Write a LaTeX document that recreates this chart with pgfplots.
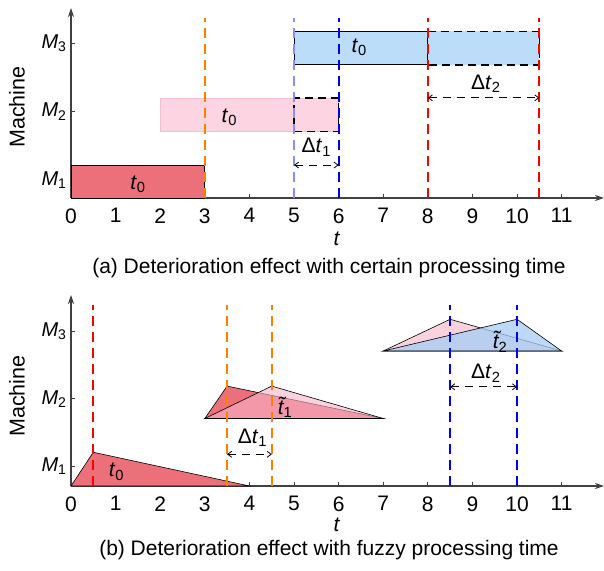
\documentclass[border=0pt]{standalone}
\usepackage{fontspec}
\setmainfont{Liberation Sans}
\usepackage{pgfplots}
\pgfplotsset{compat=1.18}
\usetikzlibrary{arrows.meta}
\definecolor{cRed}{RGB}{236,112,122}
\definecolor{cPinkA}{RGB}{252,212,226}
\definecolor{cPinkEdge}{RGB}{245,190,210}
\definecolor{cBlueA}{RGB}{187,221,250}
\definecolor{cPink}{RGB}{247,180,200}
\definecolor{cBlue}{RGB}{165,205,245}
\definecolor{lOrange}{RGB}{255,128,0}
\definecolor{lLav}{RGB}{140,140,255}
\definecolor{lRed}{RGB}{255,0,0}
\definecolor{lBlue}{RGB}{0,0,255}
\definecolor{axgray}{RGB}{64,64,64}
\newcommand{\Ms}[1]{\textit{M}\textsubscript{#1}}
\newcommand{\ts}[1]{\textit{t}\textsubscript{#1}}
\newcommand{\tts}[1]{\textit{\~{t}}\textsubscript{#1}}
\newcommand{\dts}[1]{Δ\textit{t}\textsubscript{#1}}
\newcommand{\bigf}{\fontsize{21}{25}\selectfont}
\pgfplotsset{
  gantt/.style={
    scale only axis, width=533pt, xmin=0, xmax=11.95, ymin=0,
    axis lines=left,
    axis line style={draw=axgray, line width=1.1pt, -{Stealth[length=9pt,width=6pt]}},
    xtick={0,...,11},
    tick align=inside, major tick length=4pt,
    tick style={draw=axgray, line width=0.9pt},
    /pgf/number format/assume math mode=true,
    xticklabel style={font=\bigf, yshift=-7pt},
    yticklabel style={font=\fontsize{20}{24}\selectfont, xshift=-1pt},
    yticklabels={\Ms{1},\Ms{2},\Ms{3}},
    clip=false,
  },
  vline/.style={line width=1.8pt, dash pattern=on 10pt off 6pt},
  dbox/.style={draw=black, line width=1.4pt, dash pattern=on 8pt off 5pt},
  darr/.style={draw=black, line width=0.8pt, dash pattern=on 8pt off 6pt,
    {Straight Barb[length=4pt,width=6pt]}-{Straight Barb[length=4pt,width=6pt]}},
}
\begin{document}
\begin{tikzpicture}
\useasboundingbox (0,0) rectangle (604pt,570pt);
% ---------------- panel (a)
\begin{axis}[gantt, at={(71pt,372pt)}, anchor=south west, height=190pt, ymax=2.77,
  ytick={0.26,1.26,2.26}]
\addplot[fill=cRed, draw=black, line width=0.9pt] coordinates {(0,0)(3,0)(3,0.48)(0,0.48)} -- cycle;
\addplot[fill=cPinkA, draw=cPinkEdge, line width=0.6pt] coordinates {(2,0.97)(6,0.97)(6,1.46)(2,1.46)} -- cycle;
\addplot[dbox] coordinates {(5,0.97)(6,0.97)(6,1.46)(5,1.46)} -- cycle;
\addplot[fill=cBlueA, draw=none] coordinates {(8,1.94)(10.5,1.94)(10.5,2.43)(8,2.43)} -- cycle;
\addplot[fill=cBlueA, draw=black, line width=1pt] coordinates {(5,1.94)(8,1.94)(8,2.43)(5,2.43)} -- cycle;
\addplot[dbox] coordinates {(8,2.43)(10.5,2.43)(10.5,1.94)(8,1.94)};
\addplot[vline, draw=lOrange] coordinates {(3,0)(3,2.63)};
\addplot[vline, draw=lLav] coordinates {(5,0)(5,2.63)};
\addplot[vline, draw=lBlue] coordinates {(6,0)(6,2.63)};
\addplot[vline, draw=lRed] coordinates {(8,0)(8,2.63)};
\addplot[vline, draw=lRed] coordinates {(10.5,0)(10.5,2.63)};
\addplot[darr] coordinates {(5,0.48)(6,0.48)};
\addplot[darr] coordinates {(8,1.46)(10.5,1.46)};
\node[font=\bigf] at (axis cs:1.5,0.2) {\ts{0}};
\node[font=\bigf] at (axis cs:3.55,1.18) {\ts{0}};
\node[font=\bigf] at (axis cs:6.46,2.2) {\ts{0}};
\node[font=\bigf] at (axis cs:5.5,0.74) {\dts{1}};
\node[font=\bigf] at (axis cs:9.3,1.66) {\dts{2}};
\end{axis}
% ---------------- panel (b)
\begin{axis}[gantt, at={(71pt,84pt)}, anchor=south west, height=191pt, ymax=2.83,
  ytick={0.29,1.29,2.29}]
\addplot[fill=cRed, draw=black, line width=0.6pt] coordinates {(0,0)(0.5,0.5)(4,0)} -- cycle;
\addplot[fill=cRed, draw=black, line width=0.6pt] coordinates {(3,1)(3.5,1.48)(7,1)} -- cycle;
\addplot[fill=cPink, fill opacity=0.6, draw=black, line width=0.6pt] coordinates {(3,1)(4.5,1.48)(7,1)} -- cycle;
\addplot[fill=cPink, fill opacity=0.6, draw=black, line width=0.6pt] coordinates {(7,2)(8.5,2.47)(11,2)} -- cycle;
\addplot[fill=cBlue, fill opacity=0.75, draw=black, line width=0.6pt] coordinates {(7,2)(10,2.47)(11,2)} -- cycle;
\addplot[vline, draw=lRed] coordinates {(0.5,0)(0.5,2.68)};
\addplot[vline, draw=lOrange] coordinates {(3.5,0)(3.5,2.68)};
\addplot[vline, draw=lOrange] coordinates {(4.5,0)(4.5,2.68)};
\addplot[vline, draw=lBlue] coordinates {(8.5,0)(8.5,2.68)};
\addplot[vline, draw=lBlue] coordinates {(10,0)(10,2.68)};
\addplot[darr] coordinates {(3.5,0.47)(4.5,0.47)};
\addplot[darr] coordinates {(8.5,1.47)(10,1.47)};
\node[font=\bigf] at (axis cs:1.02,0.21) {\ts{0}};
\node[font=\bigf] at (axis cs:4.8,1.17) {\tts{1}};
\node[font=\bigf] at (axis cs:9.62,2.14) {\tts{2}};
\node[font=\bigf] at (axis cs:4.07,0.71) {\dts{1}};
\node[font=\bigf] at (axis cs:9.3,1.67) {\dts{2}};
\end{axis}
% ---------------- labels
\node[font=\fontsize{21.5}{25}\selectfont, rotate=90] at (17pt,463pt) {Machine};
\node[font=\fontsize{21.5}{25}\selectfont, rotate=90] at (17pt,174pt) {Machine};
\node[font=\bigf] at (337pt,331pt) {\textit{t}};
\node[font=\bigf] at (337pt,45pt) {\textit{t}};
\node[font=\fontsize{21}{25}\selectfont] at (329pt,302pt) {(a) Deterioration effect with certain processing time};
\node[font=\fontsize{21}{25}\selectfont] at (329pt,20pt) {(b) Deterioration effect with fuzzy processing time};
\end{tikzpicture}
\end{document}
